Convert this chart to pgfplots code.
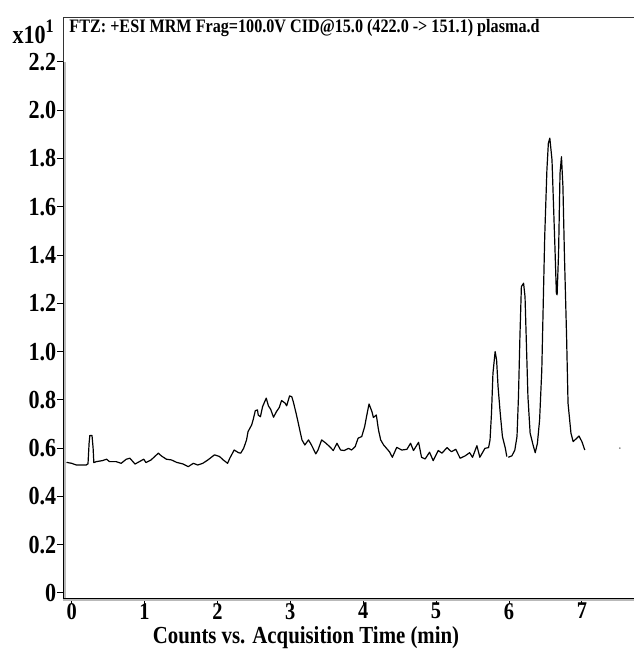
\documentclass[border=0pt]{standalone}
\usepackage{fontspec}
\setmainfont{Liberation Serif}[FakeStretch=0.85]
\usepackage{pgfplots}
\pgfplotsset{compat=1.18}

\begin{document}
\begin{tikzpicture}
\useasboundingbox (-63pt,-52pt) rectangle (571pt,598pt);
\begin{axis}[
  scale only axis,
  width=571pt, height=581pt,
  xmin=-0.118, xmax=7.715,
  ymin=-0.021, ymax=2.386,
  axis lines*=left,
  axis line style={draw=none},
  tick align=outside,
  major tick length=6pt,
  tick style={black, line width=0.9pt},
  xtick={0,1,2,3,4,5,6,7},
  ytick={0,0.2,0.4,0.6,0.8,1.0,1.2,1.4,1.6,1.8,2.0,2.2},
  yticklabels={0,0.2,0.4,0.6,0.8,1.0,1.2,1.4,1.6,1.8,2.0,2.2},
  xticklabels={0,1,2,3,4,5,6,7},
  yticklabel style={inner sep=0.5pt, font=\fontsize{26}{26}\selectfont\bfseries},
  xticklabel style={inner sep=0pt, yshift=1pt, font=\fontsize{24}{24}\selectfont\bfseries},
  xlabel={Counts vs. Acquisition Time (min)},
  xlabel style={font=\fontsize{24.5}{24.5}\selectfont\bfseries, inner sep=0pt,
    at={(axis description cs:0.4256,0)}, anchor=center, yshift=-39.5pt},
  unbounded coords=jump,
  clip=false,
]
% frame and axis lines
\draw[gray!40!black, line width=0.9pt] (rel axis cs:0,0) -- (rel axis cs:0,1) -- (rel axis cs:1,1);
\draw[gray!55, line width=3pt] ([xshift=1.5pt]rel axis cs:0,0) -- ([xshift=1.5pt]axis cs:-0.118,2.2);
\draw[black, line width=0.9pt] (rel axis cs:0,0) -- (axis cs:-0.118,2.2);
\draw[gray!55, line width=3pt] ([yshift=-1.5pt]rel axis cs:0,0) -- ([yshift=-1.5pt]rel axis cs:1,0);
\draw[black, line width=0.9pt] (rel axis cs:0,0) -- (rel axis cs:1,0);

\node[anchor=west, font=\fontsize{19}{19}\selectfont\bfseries, inner sep=0pt]
  at (axis description cs:0.011,0.981)
  {FTZ: +ESI MRM Frag=100.0V CID@15.0 (422.0 -> 151.1) plasma.d};
\node[anchor=base east, font=\fontsize{26}{26}\selectfont\bfseries, inner sep=0pt]
  at ([xshift=-9pt]axis description cs:0,0.955)
  {x10\raisebox{0.4em}{\fontsize{19}{19}\selectfont 1}};

\addplot[black, line width=1.2pt, line join=round] coordinates {
(-0.07,0.541)(0.00,0.537)(0.065,0.530)(0.20,0.530)(0.225,0.535)(0.24,0.62)(0.25,0.652)
(0.28,0.652)(0.295,0.60)(0.305,0.540)(0.34,0.544)(0.42,0.548)(0.48,0.554)(0.52,0.544)
(0.61,0.544)(0.68,0.537)(0.75,0.554)(0.80,0.558)(0.87,0.534)(0.93,0.544)(0.99,0.554)
(1.02,0.540)(1.09,0.551)(1.19,0.579)(1.23,0.568)(1.30,0.554)(1.37,0.551)(1.44,0.541)
(1.53,0.534)(1.60,0.523)(1.67,0.537)(1.73,0.530)(1.80,0.537)(1.87,0.551)(1.96,0.572)
(2.03,0.565)(2.08,0.551)(2.14,0.537)(2.17,0.558)(2.23,0.592)(2.29,0.581)(2.32,0.579)
(2.36,0.599)(2.40,0.634)(2.42,0.668)(2.47,0.696)(2.49,0.717)(2.52,0.755)(2.55,0.758)
(2.56,0.737)(2.59,0.730)(2.62,0.772)(2.67,0.807)(2.70,0.775)(2.73,0.761)(2.77,0.728)
(2.81,0.751)(2.85,0.769)(2.88,0.797)(2.93,0.786)(2.95,0.775)(2.99,0.816)(3.02,0.813)
(3.04,0.793)(3.08,0.744)(3.11,0.703)(3.13,0.675)(3.16,0.634)(3.20,0.613)(3.25,0.634)
(3.29,0.613)(3.35,0.576)(3.38,0.592)(3.43,0.634)(3.49,0.620)(3.54,0.606)(3.59,0.590)
(3.64,0.620)(3.69,0.592)(3.74,0.590)(3.80,0.599)(3.84,0.592)(3.89,0.606)(3.93,0.641)
(3.98,0.648)(4.02,0.689)(4.05,0.737)(4.08,0.783)(4.12,0.751)(4.14,0.727)(4.18,0.737)
(4.21,0.675)(4.24,0.634)(4.28,0.613)(4.32,0.599)(4.36,0.585)(4.40,0.562)(4.46,0.603)
(4.53,0.592)(4.60,0.595)(4.65,0.620)(4.69,0.590)(4.76,0.624)(4.80,0.562)(4.85,0.555)
(4.91,0.583)(4.96,0.548)(5.03,0.590)(5.08,0.579)(5.15,0.602)(5.21,0.585)(5.27,0.595)
(5.33,0.558)(5.40,0.568)(5.46,0.581)(5.50,0.562)(5.56,0.610)(5.60,0.562)(5.67,0.599)
(5.72,0.602)(5.74,0.634)(5.76,0.744)(5.78,0.910)(5.81,1.000)(5.83,0.965)(5.85,0.855)
(5.88,0.744)(5.91,0.648)(5.95,0.599)(5.97,0.565)
(5.98,nan)
(5.99,0.562)(6.04,0.568)(6.08,0.592)(6.11,0.648)(6.13,0.813)(6.15,1.062)(6.17,1.269)
(6.20,1.283)(6.22,1.227)(6.24,1.020)(6.26,0.813)(6.29,0.662)(6.33,0.613)(6.36,0.581)
(6.39,0.620)(6.42,0.717)(6.45,0.924)(6.47,1.200)(6.49,1.476)(6.52,1.752)(6.54,1.863)
(6.56,1.884)(6.59,1.794)(6.61,1.614)(6.63,1.435)(6.65,1.242)(6.66,1.235)(6.68,1.407)
(6.70,1.739)(6.72,1.807)(6.74,1.683)(6.76,1.407)(6.79,1.062)(6.81,0.786)(6.85,0.662)
(6.88,0.627)(6.93,0.641)(6.96,0.650)(7.00,0.627)(7.04,0.592)
};
\addplot[only marks, mark=*, mark size=0.6pt, gray] coordinates {(7.52,0.60)};
\end{axis}
\end{tikzpicture}
\end{document}
